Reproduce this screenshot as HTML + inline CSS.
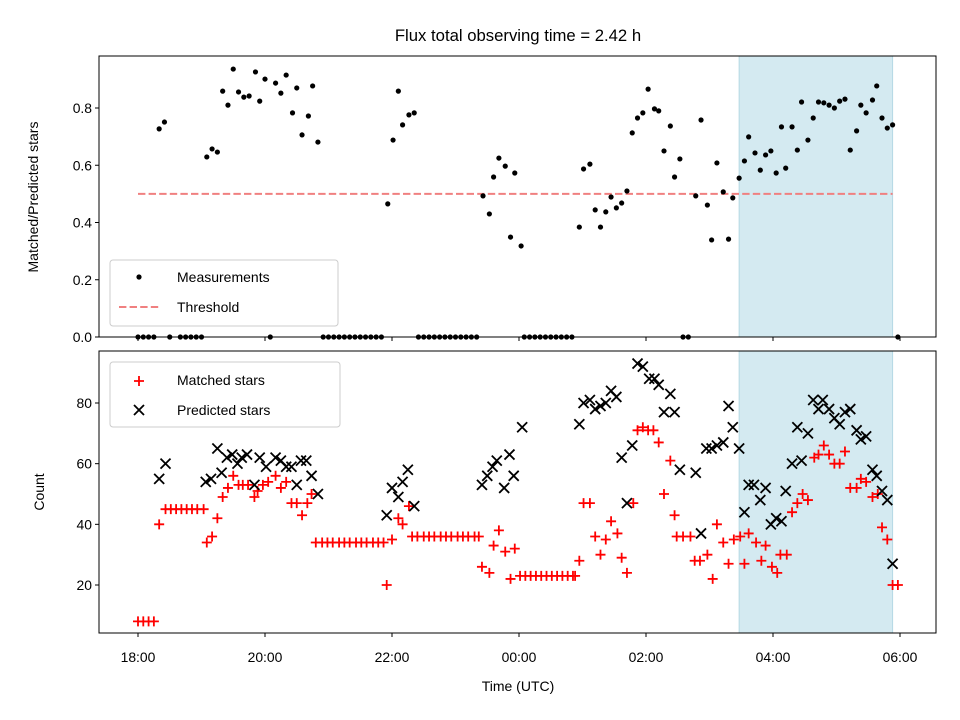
<!DOCTYPE html>
<html><head><meta charset="utf-8"><style>
html,body{margin:0;padding:0;background:#fff;}
svg{display:block;font-family:"Liberation Sans","DejaVu Sans",sans-serif;}
</style></head><body>
<svg id="fig" width="960" height="720" viewBox="0 0 960 720"></svg>
<script>
// ---- data (minutes after 18:00 UTC) ----
const ratioTimes = [0,5,10,15,30,40,45,50,55,60,125,175,180,185,190,195,200,205,210,215,220,225,230,265,270,275,280,285,290,295,300,305,310,315,320,365,370,375,380,385,390,395,400,405,410,515,520,718,
20,25,65,70,75,80,85,90,95,100,105,111,115,120,130,135,140,146,150,155,161,165,170,
236,241,246,250,256,261,
326,332,336,341,347,352,356,362,
417,421,427,432,437,442,447,452,457,462,467,472,477,482,488,492,497,503,507,512,
527,532,538,542,547,553,558,562,
568,573,577,583,588,593,598,603,608,612,618,623,627,633,638,643,648,653,658,663,668,673,679,683,688,694,698,703,708,713];
const ratioValues = [0,0,0,0,0,0,0,0,0,0,0,0,0,0,0,0,0,0,0,0,0,0,0,0,0,0,0,0,0,0,0,0,0,0,0,0,0,0,0,0,0,0,0,0,0,0,0,0,
0.727,0.751,0.629,0.657,0.646,0.859,0.810,0.936,0.856,0.838,0.842,0.926,0.824,0.901,0.887,0.852,0.915,0.783,0.870,0.706,0.772,0.877,0.681,
0.465,0.688,0.859,0.741,0.776,0.783,
0.493,0.430,0.559,0.625,0.597,0.349,0.573,0.318,
0.384,0.587,0.604,0.444,0.384,0.437,0.489,0.451,0.468,0.510,0.713,0.765,0.783,0.866,0.797,0.790,0.650,0.737,0.559,0.622,
0.493,0.758,0.461,0.339,0.608,0.507,0.342,0.486,
0.555,0.615,0.699,0.643,0.583,0.636,0.650,0.573,0.734,0.590,0.734,0.653,0.821,0.688,0.765,0.821,0.818,0.810,0.800,0.824,0.831,0.653,0.720,0.810,0.783,0.828,0.877,0.765,0.730,0.741];
const matchedTimes = [0,5,10,15,20,26,31,36,41,46,51,56,62,65,70,75,80,85,90,95,99,104,110,113,118,123,130,135,140,145,150,155,160,164,
168,174,179,184,190,195,200,206,211,216,222,227,232,235,240,246,250,256,
259,264,270,275,280,286,291,296,302,307,312,318,322,325,332,336,341,347,352,356,
361,366,371,376,381,386,391,396,401,406,411,413,417,421,427,432,437,442,447,453,457,462,468,472,477,482,487,492,497,503,507,509,515,522,526,531,538,543,547,553,558,563,569,573,577,584,589,593,599,604,607,613,618,623,628,633,639,643,648,653,658,663,668,673,679,683,688,694,699,703,708,713,718];
const matchedCounts = [8,8,8,8,40,45,45,45,45,45,45,45,45,34,36,42,49,52,56,53,53,53,49,51,53,54,56,52,54,47,47,43,47,50,
34,34,34,34,34,34,34,34,34,34,34,34,34,20,35,42,40,46,
36,36,36,36,36,36,36,36,36,36,36,36,36,26,24,33,38,31,22,32,
23,23,23,23,23,23,23,23,23,23,23,23,28,47,47,36,30,35,41,37,29,24,47,71,72,71,71,67,50,61,43,36,36,36,28,28,30,22,40,34,27,35,36,27,37,34,28,33,26,24,30,30,44,47,50,48,62,63,66,63,60,60,64,52,52,55,54,49,50,39,35,20,20];
const predictedTimes = [20,26,64,69,75,79,84,89,94,98,103,110,115,121,130,135,140,145,150,154,159,164,170,
235,240,246,250,255,261,325,330,335,339,346,351,355,363,
417,421,427,432,437,442,447,452,457,462,467,472,477,483,488,492,497,503,507,512,527,532,537,542,547,553,558,562,568,573,577,582,588,593,598,603,608,612,618,623,627,633,638,643,647,653,658,663,668,673,679,683,688,694,698,703,708,713];
const predictedCounts = [55,60,54,55,65,57,62,63,60,62,63,53,62,59,62,61,59,59,53,61,61,56,50,
43,52,49,54,58,46,53,56,59,61,52,63,56,72,
73,80,81,78,79,80,84,82,62,47,66,93,92,88,88,86,77,83,77,58,57,37,65,65,66,67,79,72,65,44,53,53,48,52,40,42,41,51,60,72,61,70,81,78,81,78,75,73,77,78,71,68,69,58,56,51,48,27];
const thresholdValue = 0.5;
const shadeStart = 568, shadeEnd = 713;
const xTickMinutes = [0,120,240,360,480,600,720];
const xTickLabels = ["18:00","20:00","22:00","00:00","02:00","04:00","06:00"];
const topTicks = [0,0.2,0.4,0.6,0.8];
const botTicks = [20,40,60,80];

// ---- layout ----
const NS="http://www.w3.org/2000/svg";
const svg=document.getElementById('fig');
const L=99,R=936,T1=56,B1=337,T2=351,B2=633;
const xs=m=>138+m*63.5/60;
const y1=v=>337-v*286.25;
const y2=c=>585-(c-20)*3.0333;
function mk(tag,attrs,parent){const e=document.createElementNS(NS,tag);for(const k in attrs)e.setAttribute(k,attrs[k]);(parent||svg).appendChild(e);return e;}
function txt(s,attrs,parent){const e=mk('text',attrs,parent);e.textContent=s;return e;}

let e;
e=txt("Flux total observing time = 2.42 h",{x:518,y:41,'text-anchor':'middle','font-size':'16.7'});



// ---- top panel ----
const gTop=mk('g',{});


e=mk('rect',{x:xs(shadeStart),y:T1,width:xs(shadeEnd)-xs(shadeStart),height:B1-T1,fill:'#d4eaf1',stroke:'#b5d9e4','stroke-width':1},gTop);


e=mk('line',{x1:xs(0),x2:xs(shadeEnd),y1:y1(thresholdValue),y2:y1(thresholdValue),stroke:'#f08080','stroke-width':2,'stroke-dasharray':'7.4,3.2'},gTop);


for(let i=0;i<ratioTimes.length;i++){
  e=mk('circle',{cx:xs(ratioTimes[i]),cy:y1(ratioValues[i]),r:2.6,fill:'#000'},gTop);
  
  
}
mk('rect',{x:L,y:T1,width:R-L,height:B1-T1,fill:'none',stroke:'#000','stroke-width':1},gTop);
topTicks.forEach(v=>{
  mk('line',{x1:L-4,x2:L,y1:y1(v),y2:y1(v),stroke:'#000'},gTop);
  e=txt(v.toFixed(1),{x:L-7,y:y1(v)+5,'text-anchor':'end','font-size':'13.9'},gTop);
  
  
});
xTickMinutes.forEach(m=>mk('line',{x1:xs(m),x2:xs(m),y1:B1,y2:B1+4,stroke:'#000'},gTop));
e=txt("Matched/Predicted stars",{x:0,y:0,'text-anchor':'middle','font-size':'14',transform:'translate(38,197) rotate(-90)'});


// legend top
const lg1=mk('g',{});


mk('rect',{x:110,y:260,width:228,height:66,rx:3,fill:'#fff','fill-opacity':0.8,stroke:'#ccc'},lg1);
mk('circle',{cx:139,cy:277,r:2.6,fill:'#000'},lg1);
e=txt("Measurements",{x:177,y:282,'font-size':'14'},lg1);


mk('line',{x1:119,x2:160,y1:307,y2:307,stroke:'#f08080','stroke-width':2,'stroke-dasharray':'7.4,3.2'},lg1);
e=txt("Threshold",{x:177,y:312,'font-size':'14'},lg1);



// ---- bottom panel ----
const gBot=mk('g',{});


e=mk('rect',{x:xs(shadeStart),y:T2,width:xs(shadeEnd)-xs(shadeStart),height:B2-T2,fill:'#d4eaf1',stroke:'#b5d9e4','stroke-width':1},gBot);


function plus(x,y,p){return mk('path',{d:`M${x-5},${y}H${x+5}M${x},${y-5}V${y+5}`,stroke:'#ff0000','stroke-width':1.8,fill:'none'},p);}
function cross(x,y,p){return mk('path',{d:`M${x-5},${y-5}L${x+5},${y+5}M${x-5},${y+5}L${x+5},${y-5}`,stroke:'#000','stroke-width':1.8,fill:'none'},p);}
for(let i=0;i<matchedTimes.length;i++){
  e=plus(xs(matchedTimes[i]),y2(matchedCounts[i]),gBot);
  
  
}
for(let i=0;i<predictedTimes.length;i++){
  e=cross(xs(predictedTimes[i]),y2(predictedCounts[i]),gBot);
  
  
}
mk('rect',{x:L,y:T2,width:R-L,height:B2-T2,fill:'none',stroke:'#000','stroke-width':1},gBot);
botTicks.forEach(v=>{
  mk('line',{x1:L-4,x2:L,y1:y2(v),y2:y2(v),stroke:'#000'},gBot);
  e=txt(String(v),{x:L-7,y:y2(v)+5,'text-anchor':'end','font-size':'13.9'},gBot);
  
  
});
xTickMinutes.forEach((m,i)=>{
  mk('line',{x1:xs(m),x2:xs(m),y1:B2,y2:B2+4,stroke:'#000'},gBot);
  e=txt(xTickLabels[i],{x:xs(m),y:B2+29,'text-anchor':'middle','font-size':'13.9'},gBot);
  
  
});
e=txt("Time (UTC)",{x:518,y:691,'text-anchor':'middle','font-size':'14'});


e=txt("Count",{x:0,y:0,'text-anchor':'middle','font-size':'14',transform:'translate(44,492) rotate(-90)'});


// legend bottom
const lg2=mk('g',{});


mk('rect',{x:110,y:362,width:230,height:65,rx:3,fill:'#fff','fill-opacity':0.8,stroke:'#ccc'},lg2);
plus(139,381,lg2);
e=txt("Matched stars",{x:177,y:385,'font-size':'14'},lg2);


cross(139,410,lg2);
e=txt("Predicted stars",{x:177,y:415,'font-size':'14'},lg2);


</script>
</body></html>
